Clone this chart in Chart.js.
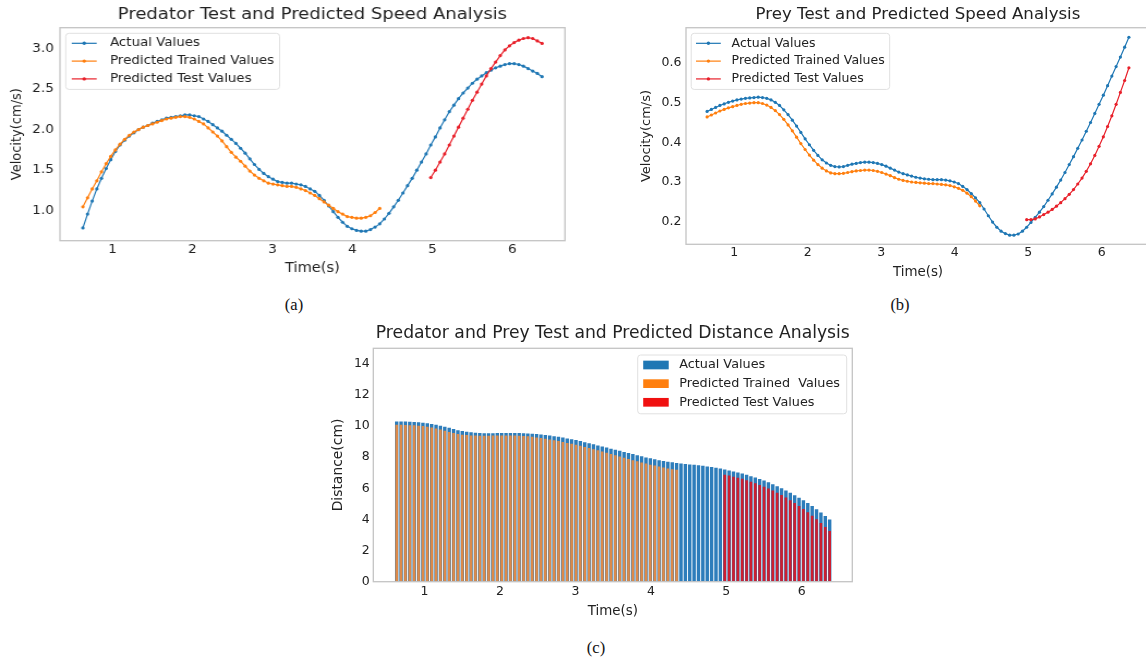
<!DOCTYPE html>
<html>
<head>
<meta charset="utf-8">
<script src="https://cdn.jsdelivr.net/npm/chart.js@4.4.1/dist/chart.umd.min.js"></script>
<style>
  html, body { margin: 0; padding: 0; background: #fff; width: 1146px; height: 661px; overflow: hidden; }
  .panel { position: absolute; }
  .cap { position: absolute; font-family: "Liberation Serif", "Times New Roman", serif; font-size: 16.5px; color: #111; transform: translate(-50%, -50%); }
</style>
</head>
<body>
<div class="panel" style="left:0;top:0;transform:scaleX(1.09);transform-origin:0 0;"><canvas id="predatorChart" width="528" height="290"></canvas></div>
<div class="panel" style="left:610px;top:0;"><canvas id="preyChart" width="560" height="290"></canvas></div>
<div class="panel" style="left:300px;top:318px;"><canvas id="distanceChart" width="570" height="320"></canvas></div>
<div class="cap" style="left:294px;top:305px;">(a)</div>
<div class="cap" style="left:900px;top:305px;">(b)</div>
<div class="cap" style="left:596px;top:648px;">(c)</div>

<script>
// time axis (s) shared by all three panels
const times = [0.630, 0.688, 0.746, 0.804, 0.862, 0.920, 0.978, 1.036, 1.094, 1.152,
  1.210, 1.268, 1.326, 1.384, 1.442, 1.500, 1.558, 1.616, 1.674, 1.732,
  1.790, 1.848, 1.906, 1.964, 2.022, 2.080, 2.138, 2.196, 2.254, 2.312,
  2.369, 2.427, 2.485, 2.543, 2.601, 2.659, 2.717, 2.775, 2.833, 2.891,
  2.949, 3.007, 3.065, 3.123, 3.181, 3.239, 3.297, 3.355, 3.413, 3.471,
  3.529, 3.587, 3.645, 3.703, 3.761, 3.819, 3.877, 3.935, 3.993, 4.051,
  4.109, 4.167, 4.225, 4.283, 4.341, 4.399, 4.457, 4.515, 4.573, 4.631,
  4.689, 4.747, 4.805, 4.863, 4.921, 4.979, 5.037, 5.095, 5.153, 5.211,
  5.269, 5.326, 5.384, 5.442, 5.500, 5.558, 5.616, 5.674, 5.732, 5.790,
  5.848, 5.906, 5.964, 6.022, 6.080, 6.138, 6.196, 6.254, 6.312, 6.370];
const trainCount = 65;   // first 65 samples have trained predictions
const testStart = 75;    // test predictions from sample 75 on
const xTicks = [1, 2, 3, 4, 5, 6];

// (a) predator speed
const predatorActual = [0.79, 0.96, 1.12, 1.27, 1.40, 1.52, 1.63, 1.73, 1.81, 1.87,
  1.92, 1.96, 2.00, 2.03, 2.05, 2.08, 2.10, 2.12, 2.14, 2.15,
  2.16, 2.17, 2.18, 2.18, 2.17, 2.16, 2.13, 2.10, 2.06, 2.02,
  1.98, 1.93, 1.88, 1.83, 1.77, 1.71, 1.64, 1.57, 1.51, 1.46,
  1.42, 1.39, 1.36, 1.35, 1.34, 1.34, 1.33, 1.32, 1.30, 1.27,
  1.24, 1.19, 1.13, 1.06, 0.99, 0.92, 0.86, 0.81, 0.78, 0.76,
  0.75, 0.75, 0.77, 0.80, 0.84, 0.90, 0.97, 1.05, 1.13, 1.22,
  1.31, 1.40, 1.50, 1.60, 1.70, 1.81, 1.91, 2.02, 2.12, 2.22,
  2.30, 2.38, 2.45, 2.51, 2.57, 2.62, 2.66, 2.70, 2.73, 2.76,
  2.78, 2.80, 2.81, 2.81, 2.80, 2.78, 2.75, 2.72, 2.69, 2.65];
const predatorTrain = [1.05, 1.16, 1.27, 1.37, 1.48, 1.58, 1.67, 1.75, 1.82, 1.88,
  1.93, 1.97, 2.00, 2.03, 2.05, 2.07, 2.09, 2.11, 2.13, 2.14,
  2.15, 2.16, 2.16, 2.15, 2.13, 2.10, 2.07, 2.02, 1.97, 1.92,
  1.86, 1.79, 1.72, 1.66, 1.61, 1.55, 1.49, 1.44, 1.40, 1.37,
  1.34, 1.33, 1.32, 1.31, 1.30, 1.30, 1.29, 1.27, 1.25, 1.22,
  1.19, 1.15, 1.11, 1.07, 1.03, 0.99, 0.96, 0.93, 0.92, 0.91,
  0.91, 0.92, 0.94, 0.98, 1.03];
const predatorTest = [1.41, 1.50, 1.60, 1.70, 1.81, 1.92, 2.03, 2.14, 2.25, 2.36,
  2.46, 2.56, 2.66, 2.75, 2.83, 2.91, 2.98, 3.03, 3.07, 3.10,
  3.12, 3.13, 3.12, 3.09, 3.06];
const predatorTicks = [1.0, 1.5, 2.0, 2.5, 3.0];

// (b) prey speed
const preyActual = [0.478, 0.483, 0.488, 0.493, 0.497, 0.501, 0.504, 0.507, 0.509, 0.511,
  0.512, 0.513, 0.514, 0.513, 0.511, 0.507, 0.501, 0.493, 0.482, 0.470,
  0.456, 0.441, 0.425, 0.409, 0.394, 0.380, 0.367, 0.356, 0.348, 0.342,
  0.339, 0.338, 0.339, 0.342, 0.345, 0.347, 0.349, 0.350, 0.350, 0.349,
  0.347, 0.344, 0.340, 0.335, 0.330, 0.325, 0.321, 0.318, 0.315, 0.312,
  0.310, 0.308, 0.307, 0.306, 0.306, 0.306, 0.305, 0.303, 0.300, 0.296,
  0.289, 0.281, 0.271, 0.260, 0.248, 0.232, 0.215, 0.199, 0.186, 0.176,
  0.170, 0.166, 0.166, 0.169, 0.176, 0.186, 0.198, 0.211, 0.224, 0.238,
  0.254, 0.270, 0.287, 0.305, 0.324, 0.344, 0.364, 0.385, 0.406, 0.428,
  0.450, 0.473, 0.496, 0.519, 0.543, 0.567, 0.591, 0.615, 0.640, 0.665];
const preyTrain = [0.464, 0.469, 0.474, 0.479, 0.483, 0.487, 0.490, 0.493, 0.496, 0.498,
  0.499, 0.500, 0.500, 0.498, 0.494, 0.488, 0.480, 0.470, 0.458, 0.444,
  0.429, 0.413, 0.397, 0.382, 0.368, 0.355, 0.344, 0.335, 0.328, 0.323,
  0.321, 0.321, 0.322, 0.324, 0.326, 0.328, 0.329, 0.330, 0.330, 0.329,
  0.327, 0.324, 0.320, 0.316, 0.311, 0.307, 0.304, 0.302, 0.300, 0.299,
  0.298, 0.297, 0.296, 0.296, 0.295, 0.294, 0.293, 0.291, 0.288, 0.284,
  0.279, 0.272, 0.263, 0.252, 0.240];
const preyTest = [0.205, 0.205, 0.207, 0.212, 0.218, 0.224, 0.231, 0.239, 0.248, 0.258,
  0.269, 0.281, 0.295, 0.310, 0.327, 0.346, 0.367, 0.390, 0.414, 0.440,
  0.467, 0.496, 0.526, 0.556, 0.588];
const preyTicks = [0.2, 0.3, 0.4, 0.5, 0.6];

// (c) predator-prey distance
const distanceActual = [10.30, 10.30, 10.29, 10.28, 10.26, 10.24, 10.21, 10.18, 10.14, 10.09,
  10.03, 9.96, 9.89, 9.81, 9.74, 9.68, 9.63, 9.60, 9.57, 9.55,
  9.54, 9.54, 9.54, 9.55, 9.55, 9.56, 9.56, 9.56, 9.55, 9.54,
  9.53, 9.51, 9.49, 9.46, 9.43, 9.39, 9.35, 9.31, 9.26, 9.21,
  9.16, 9.10, 9.04, 8.97, 8.90, 8.83, 8.76, 8.69, 8.62, 8.55,
  8.48, 8.41, 8.34, 8.27, 8.20, 8.13, 8.06, 7.99, 7.93, 7.87,
  7.81, 7.76, 7.71, 7.67, 7.63, 7.60, 7.57, 7.54, 7.51, 7.48,
  7.45, 7.41, 7.37, 7.32, 7.27, 7.21, 7.15, 7.09, 7.02, 6.95,
  6.87, 6.78, 6.69, 6.60, 6.50, 6.39, 6.27, 6.14, 6.00, 5.86,
  5.71, 5.56, 5.40, 5.23, 5.05, 4.86, 4.66, 4.45, 4.23, 4.00];
const distanceTrain = [10.08, 10.08, 10.07, 10.06, 10.05, 10.03, 10.00, 9.96, 9.91, 9.85,
  9.78, 9.70, 9.62, 9.55, 9.49, 9.45, 9.42, 9.40, 9.39, 9.38,
  9.38, 9.38, 9.39, 9.39, 9.40, 9.40, 9.40, 9.39, 9.38, 9.36,
  9.34, 9.31, 9.27, 9.23, 9.19, 9.14, 9.09, 9.04, 8.98, 8.92,
  8.86, 8.80, 8.73, 8.66, 8.59, 8.52, 8.44, 8.37, 8.29, 8.21,
  8.13, 8.05, 7.97, 7.89, 7.81, 7.74, 7.66, 7.59, 7.52, 7.46,
  7.40, 7.34, 7.28, 7.23, 7.19];
const distanceTest = [6.88, 6.82, 6.75, 6.68, 6.61, 6.52, 6.43, 6.33, 6.22, 6.11,
  5.99, 5.86, 5.72, 5.57, 5.41, 5.24, 5.06, 4.87, 4.67, 4.46,
  4.24, 4.01, 3.77, 3.52, 3.26];
const distanceTicks = [0, 2, 4, 6, 8, 10, 12, 14];

const BLUE = '#1f77b4', ORANGE = '#ff7f0e', RED = '#e8202a';
const TEXT = '#222222';

Chart.defaults.font.family = '"DejaVu Sans", sans-serif';
Chart.defaults.color = TEXT;
Chart.defaults.animation = false;

const pairs = (ts, vs) => vs.map((v, i) => ({ x: ts[i], y: v }));
const trainTimes = times.slice(0, trainCount);
const testTimes = times.slice(testStart);

// light grey box around the plot area, like the matplotlib spines
const axesFrame = {
  id: 'axesFrame',
  afterDatasetsDraw(chart) {
    const { ctx, chartArea: a } = chart;
    ctx.save();
    ctx.strokeStyle = '#c4c4c4';
    ctx.lineWidth = 1.3;
    ctx.strokeRect(a.left, a.top, a.right - a.left, a.bottom - a.top);
    ctx.restore();
  }
};

// legend drawn inside the plot area
const boxLegend = {
  id: 'boxLegend',
  afterDatasetsDraw(chart, args, o) {
    const { ctx, chartArea: a } = chart;
    const sets = chart.data.datasets;
    ctx.save();
    ctx.font = o.size + 'px "DejaVu Sans"';
    const textW = Math.max(...sets.map(d => ctx.measureText(d.label).width));
    const w = o.textX + textW + o.padRight;
    const h = o.firstRow + (sets.length - 1) * o.rowGap + o.padBottom;
    const x0 = o.side === 'right' ? a.right - o.insetX - w : a.left + o.insetX;
    const y0 = a.top + o.insetY;
    ctx.beginPath();
    if (ctx.roundRect) ctx.roundRect(x0, y0, w, h, 3); else ctx.rect(x0, y0, w, h);
    ctx.fillStyle = 'rgba(255,255,255,0.85)';
    ctx.fill();
    ctx.strokeStyle = '#e0e0e0';
    ctx.lineWidth = 1;
    ctx.stroke();
    sets.forEach((d, i) => {
      const y = y0 + o.firstRow + i * o.rowGap;
      const c = d.legendColor;
      if (o.kind === 'patch') {
        ctx.fillStyle = c;
        ctx.fillRect(x0 + o.sampleFrom, y - o.patchH / 2, o.sampleTo - o.sampleFrom, o.patchH);
      } else {
        ctx.strokeStyle = c;
        ctx.lineWidth = 1.2;
        ctx.beginPath();
        ctx.moveTo(x0 + o.sampleFrom, y);
        ctx.lineTo(x0 + o.sampleTo, y);
        ctx.stroke();
        ctx.fillStyle = c;
        ctx.beginPath();
        ctx.arc(x0 + (o.sampleFrom + o.sampleTo) / 2, y, 1.7, 0, Math.PI * 2);
        ctx.fill();
      }
      ctx.fillStyle = TEXT;
      ctx.textAlign = 'left';
      ctx.textBaseline = 'middle';
      ctx.fillText(d.label, x0 + o.textX, y);
    });
    ctx.restore();
  }
};

function lineSet(label, color, data, order) {
  return {
    label, data, order, legendColor: color,
    borderColor: color, backgroundColor: color,
    borderWidth: 1.2, pointRadius: 1.6, pointBorderWidth: 0,
    pointBackgroundColor: color, tension: 0
  };
}

function speedChart(id, c) {
  return new Chart(document.getElementById(id), {
    type: 'line',
    data: {
      datasets: [
        lineSet('Actual Values', BLUE, pairs(times, c.actual), 3),
        lineSet('Predicted Trained Values', ORANGE, pairs(trainTimes, c.train), 2),
        lineSet('Predicted Test Values', RED, pairs(testTimes, c.test), 1)
      ]
    },
    options: {
      responsive: false,
      layout: { padding: { left: c.padLeft, right: c.padRight, top: 0, bottom: 0 } },
      plugins: {
        legend: { display: false },
        tooltip: { enabled: false },
        title: {
          display: true, text: c.title, fullSize: false,
          font: { size: c.titleSize, weight: 'normal' }, color: TEXT,
          padding: { top: 5, bottom: c.titleGap }
        },
        boxLegend: {
          kind: 'line', side: 'left', size: c.legendSize,
          insetX: c.legInset, insetY: 5.6, firstRow: 10, rowGap: 17.8, padBottom: 10.5,
          sampleFrom: c.sampleFrom, sampleTo: c.sampleTo, textX: c.textX, padRight: 5
        }
      },
      scales: {
        x: {
          type: 'linear', min: 0.343, max: 6.657,
          grid: { display: false, drawTicks: false }, border: { display: false },
          afterBuildTicks: s => { s.ticks = xTicks.map(v => ({ value: v })); },
          afterFit: s => { s.height = c.xHeight; },
          ticks: { font: { size: 12.5 }, padding: c.xTickPad, autoSkip: false, maxRotation: 0, callback: v => String(v) },
          title: { display: true, text: 'Time(s)', font: { size: 13.4 }, padding: { top: 0, bottom: c.xTitlePad } }
        },
        y: {
          min: c.yMin, max: c.yMax,
          grid: { display: false, drawTicks: false }, border: { display: false },
          afterBuildTicks: s => { s.ticks = c.yTicks.map(v => ({ value: v })); },
          afterFit: s => { s.width = c.yWidth; },
          ticks: { font: { size: 12.5 }, padding: c.yTickPad, autoSkip: false, callback: v => v.toFixed(1) },
          title: { display: true, text: 'Velocity(cm/s)', font: { size: 13 }, padding: { top: 0, bottom: 0 } }
        }
      }
    },
    plugins: [axesFrame, boxLegend]
  });
}

speedChart('predatorChart', {
  title: 'Predator Test and Predicted Speed Analysis', titleSize: 16.5, titleGap: 2.9,
  actual: predatorActual, train: predatorTrain, test: predatorTest,
  yMin: 0.633, yMax: 3.253, yTicks: predatorTicks,
  padLeft: 7.9, padRight: 9.7, yWidth: 47.1, yTickPad: 5.5,
  xHeight: 49.3, xTickPad: 1.4, xTitlePad: 13.8,
  legendSize: 12.3, legInset: 5.3, sampleFrom: 5.5, sampleTo: 28.4, textX: 40.6
});

speedChart('preyChart', {
  title: 'Prey Test and Predicted Speed Analysis', titleSize: 16.6, titleGap: 2.8,
  actual: preyActual, train: preyTrain, test: preyTest,
  yMin: 0.143, yMax: 0.689, yTicks: preyTicks,
  padLeft: 29.1, padRight: 20, yWidth: 46.9, yTickPad: 4.5,
  xHeight: 45.7, xTickPad: 1, xTitlePad: 9.4,
  legendSize: 12.5, legInset: 5.2, sampleFrom: 4.8, sampleTo: 29.6, textX: 40.4
});

function barSet(label, color, legendColor, data, order, pct) {
  return {
    label, data, order, legendColor,
    backgroundColor: color, borderWidth: 0,
    grouped: false, barPercentage: pct, categoryPercentage: 1
  };
}

new Chart(document.getElementById('distanceChart'), {
  type: 'bar',
  data: {
    datasets: [
      barSet('Actual Values', '#2d7dbb', BLUE, pairs(times, distanceActual), 3, 0.8),
      barSet('Predicted Trained  Values', '#dc8a4a', ORANGE, pairs(trainTimes, distanceTrain), 2, 0.62),
      barSet('Predicted Test Values', '#cc1f30', '#f01010', pairs(testTimes, distanceTest), 1, 0.62)
    ]
  },
  options: {
    responsive: false,
    layout: { padding: { left: 29.66, right: 17.7, top: 0, bottom: 0 } },
    plugins: {
      legend: { display: false },
      tooltip: { enabled: false },
      title: {
        display: true, text: 'Predator and Prey Test and Predicted Distance Analysis', fullSize: false,
        font: { size: 17.2, weight: 'normal' }, color: TEXT,
        padding: { top: 5, bottom: 4.66 }
      },
      boxLegend: {
        kind: 'patch', side: 'right', size: 12.8, patchH: 8.7,
        insetX: 5.6, insetY: 6.7, firstRow: 10, rowGap: 18.65, padBottom: 11.5,
        sampleFrom: 5.5, sampleTo: 31, textX: 41.5, padRight: 6.7
      }
    },
    scales: {
      x: {
        type: 'linear', min: 0.32, max: 6.67, offset: false,
        grid: { display: false, drawTicks: false }, border: { display: false },
        afterBuildTicks: s => { s.ticks = xTicks.map(v => ({ value: v })); },
        afterFit: s => { s.height = 56.3; },
        ticks: { font: { size: 12.5 }, padding: 2.4, autoSkip: false, maxRotation: 0, callback: v => String(v) },
        title: { display: true, text: 'Time(s)', font: { size: 13.4 }, padding: { top: 0, bottom: 18.4 } }
      },
      y: {
        min: 0, max: 15,
        grid: { display: false, drawTicks: false }, border: { display: false },
        afterBuildTicks: s => { s.ticks = distanceTicks.map(v => ({ value: v })); },
        afterFit: s => { s.width = 43.64; },
        ticks: { font: { size: 12.5 }, padding: 3.5, autoSkip: false, callback: v => String(v) },
        title: { display: true, text: 'Distance(cm)', font: { size: 13.9 }, padding: { top: 0, bottom: 0 } }
      }
    }
  },
  plugins: [axesFrame, boxLegend]
});
</script>
</body>
</html>
